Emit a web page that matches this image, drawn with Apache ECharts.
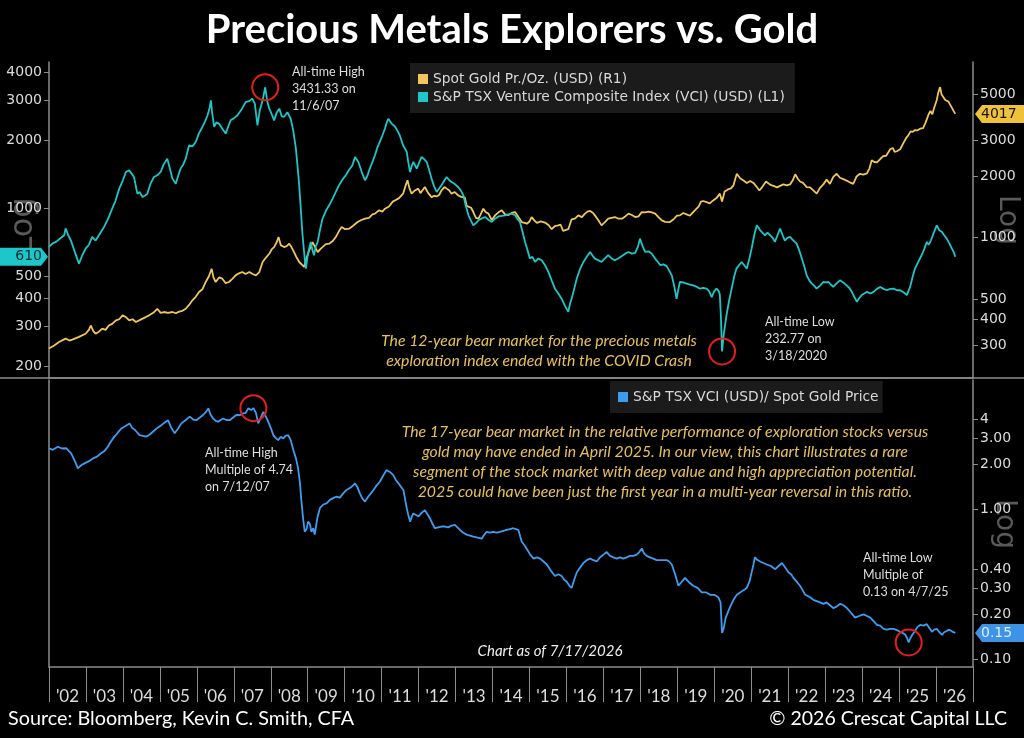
<!DOCTYPE html>
<html>
<head>
<meta charset="utf-8">
<title>Precious Metals Explorers vs. Gold</title>
<script src="https://cdn.jsdelivr.net/npm/echarts@6/dist/echarts.min.js"></script>
<style>
html, body { margin: 0; background: #000; }
#chart { width: 1024px; height: 738px; }
</style>
</head>
<body>
<div id="chart"></div>
<script>
// values, [decimal year, value]
const vciData = [[2002.00,675],[2002.10,700],[2002.20,712],[2002.30,735],[2002.41,760],[2002.45,815],[2002.52,760],[2002.59,722],[2002.70,640],[2002.81,569],[2002.90,620],[2002.99,663],[2003.08,690],[2003.17,747],[2003.26,720],[2003.35,760],[2003.49,827],[2003.60,900],[2003.71,997],[2003.80,1080],[2003.90,1222],[2004.00,1330],[2004.08,1448],[2004.17,1472],[2004.24,1420],[2004.30,1376],[2004.39,1161],[2004.45,1180],[2004.53,1122],[2004.60,1140],[2004.66,1160],[2004.75,1290],[2004.84,1376],[2004.93,1400],[2005.02,1448],[2005.10,1560],[2005.20,1659],[2005.27,1500],[2005.34,1353],[2005.43,1285],[2005.50,1400],[2005.56,1498],[2005.63,1560],[2005.70,1659],[2005.79,1900],[2005.88,1880],[2005.97,1965],[2006.06,2150],[2006.15,2290],[2006.22,2420],[2006.29,2580],[2006.35,2800],[2006.38,3003],[2006.42,2600],[2006.47,2290],[2006.53,2400],[2006.60,2370],[2006.69,2250],[2006.78,2140],[2006.85,2300],[2006.92,2460],[2007.00,2500],[2007.10,2580],[2007.20,2720],[2007.32,2950],[2007.42,2980],[2007.50,3055],[2007.57,2900],[2007.64,2330],[2007.70,2700],[2007.78,3003],[2007.85,3431.33],[2007.90,3000],[2007.96,2760],[2008.03,2600],[2008.09,2450],[2008.16,2650],[2008.23,2760],[2008.30,2550],[2008.36,2540],[2008.45,2660],[2008.54,2490],[2008.61,2200],[2008.68,1837],[2008.73,1500],[2008.77,1264],[2008.82,950],[2008.86,760],[2008.91,620],[2008.95,541],[2009.00,620],[2009.08,710],[2009.13,650],[2009.17,620],[2009.22,680],[2009.27,710],[2009.33,800],[2009.40,900],[2009.50,980],[2009.58,1031],[2009.67,1100],[2009.76,1181],[2009.83,1250],[2009.90,1307],[2009.97,1360],[2010.03,1400],[2010.12,1480],[2010.21,1550],[2010.28,1688],[2010.37,1603],[2010.46,1450],[2010.55,1330],[2010.62,1400],[2010.68,1500],[2010.75,1600],[2010.82,1716],[2010.88,1850],[2010.95,1966],[2011.02,2100],[2011.09,2253],[2011.14,2400],[2011.18,2490],[2011.27,2370],[2011.36,2300],[2011.43,2200],[2011.49,2104],[2011.58,1900],[2011.68,1777],[2011.72,1600],[2011.77,1448],[2011.82,1550],[2011.86,1603],[2011.95,1498],[2012.02,1600],[2012.08,1688],[2012.15,1650],[2012.22,1603],[2012.30,1450],[2012.35,1353],[2012.42,1250],[2012.49,1181],[2012.55,1220],[2012.62,1264],[2012.70,1330],[2012.76,1376],[2012.83,1330],[2012.89,1307],[2012.98,1280],[2013.07,1242],[2013.14,1200],[2013.21,1142],[2013.28,1020],[2013.35,931],[2013.42,880],[2013.48,841],[2013.55,860],[2013.62,885],[2013.70,900],[2013.80,915],[2013.89,890],[2013.98,870],[2014.07,900],[2014.16,920],[2014.25,925],[2014.34,931],[2014.43,940],[2014.52,947],[2014.61,931],[2014.67,900],[2014.74,870],[2014.81,790],[2014.88,710],[2014.95,650],[2015.01,599],[2015.08,610],[2015.15,579],[2015.24,600],[2015.33,589],[2015.42,560],[2015.51,523],[2015.60,480],[2015.69,441],[2015.78,420],[2015.87,398],[2015.96,370],[2016.05,348],[2016.10,380],[2016.14,398],[2016.21,440],[2016.28,489],[2016.37,540],[2016.46,579],[2016.55,610],[2016.64,641],[2016.70,620],[2016.77,599],[2016.86,590],[2016.95,579],[2017.04,600],[2017.13,620],[2017.22,600],[2017.31,589],[2017.40,600],[2017.50,615],[2017.59,630],[2017.68,641],[2017.77,630],[2017.86,635],[2017.94,680],[2017.99,734],[2018.06,680],[2018.13,641],[2018.22,645],[2018.31,630],[2018.40,599],[2018.47,580],[2018.54,560],[2018.62,565],[2018.71,555],[2018.78,530],[2018.85,505],[2018.92,450],[2018.98,398],[2019.03,440],[2019.07,472],[2019.16,470],[2019.25,464],[2019.34,460],[2019.43,456],[2019.52,450],[2019.61,441],[2019.70,445],[2019.79,441],[2019.86,430],[2019.93,405],[2020.00,430],[2020.06,441],[2020.12,430],[2020.15,415],[2020.18,330],[2020.21,232.77],[2020.26,280],[2020.33,336],[2020.40,390],[2020.47,441],[2020.54,500],[2020.60,541],[2020.67,560],[2020.74,579],[2020.81,560],[2020.88,541],[2020.95,600],[2021.01,663],[2021.08,760],[2021.15,841],[2021.20,820],[2021.24,800],[2021.30,780],[2021.37,760],[2021.44,780],[2021.51,760],[2021.58,740],[2021.64,710],[2021.71,760],[2021.78,813],[2021.85,760],[2021.91,720],[2021.98,740],[2022.05,747],[2022.14,720],[2022.23,698],[2022.30,650],[2022.37,599],[2022.44,550],[2022.50,505],[2022.57,480],[2022.64,464],[2022.70,455],[2022.77,441],[2022.86,455],[2022.95,472],[2023.02,470],[2023.09,472],[2023.15,460],[2023.22,449],[2023.31,465],[2023.40,480],[2023.49,470],[2023.58,456],[2023.65,445],[2023.72,427],[2023.79,405],[2023.86,386],[2023.92,400],[2023.99,413],[2024.06,420],[2024.13,427],[2024.22,420],[2024.31,427],[2024.40,440],[2024.49,449],[2024.58,440],[2024.67,434],[2024.76,440],[2024.85,441],[2024.94,434],[2025.03,434],[2025.12,425],[2025.21,413],[2025.25,405],[2025.30,450],[2025.37,500],[2025.43,541],[2025.52,580],[2025.61,620],[2025.68,660],[2025.75,710],[2025.80,690],[2025.86,720],[2025.94,780],[2026.02,841],[2026.09,800],[2026.16,786],[2026.22,760],[2026.29,734],[2026.36,700],[2026.43,663],[2026.48,640],[2026.52,610]];

const goldData = [[2002.00,288],[2002.14,298],[2002.27,310],[2002.45,322],[2002.55,315],[2002.63,318],[2002.81,328],[2002.99,340],[2003.08,355],[2003.13,373],[2003.20,350],[2003.26,340],[2003.35,348],[2003.44,360],[2003.53,355],[2003.62,373],[2003.71,380],[2003.81,395],[2003.90,400],[2003.99,418],[2004.08,410],[2004.17,395],[2004.26,400],[2004.35,388],[2004.44,395],[2004.53,403],[2004.62,410],[2004.71,418],[2004.82,430],[2004.93,450],[2005.02,430],[2005.11,434],[2005.22,430],[2005.34,434],[2005.43,428],[2005.52,436],[2005.61,440],[2005.70,450],[2005.79,470],[2005.88,495],[2005.97,515],[2006.06,543],[2006.15,560],[2006.24,608],[2006.33,650],[2006.40,706],[2006.45,640],[2006.51,608],[2006.60,640],[2006.69,631],[2006.78,600],[2006.87,608],[2006.96,630],[2007.05,655],[2007.14,670],[2007.23,680],[2007.32,665],[2007.42,680],[2007.51,665],[2007.60,655],[2007.69,680],[2007.78,761],[2007.87,800],[2007.96,835],[2008.03,880],[2008.09,900],[2008.16,950],[2008.21,1007],[2008.27,920],[2008.36,900],[2008.43,910],[2008.50,935],[2008.56,900],[2008.63,851],[2008.70,800],[2008.77,761],[2008.84,740],[2008.90,720],[2008.97,800],[2009.04,867],[2009.13,952],[2009.20,900],[2009.27,851],[2009.34,880],[2009.40,900],[2009.49,930],[2009.58,935],[2009.67,960],[2009.76,1007],[2009.85,1080],[2009.92,1127],[2010.01,1100],[2010.12,1106],[2010.22,1140],[2010.35,1192],[2010.45,1220],[2010.55,1238],[2010.66,1250],[2010.75,1300],[2010.82,1310],[2010.93,1360],[2011.02,1340],[2011.09,1385],[2011.20,1420],[2011.30,1500],[2011.36,1520],[2011.47,1560],[2011.58,1640],[2011.65,1800],[2011.70,1905],[2011.75,1750],[2011.81,1640],[2011.90,1700],[2011.99,1735],[2012.05,1650],[2012.17,1766],[2012.26,1650],[2012.35,1578],[2012.42,1600],[2012.49,1590],[2012.56,1620],[2012.62,1700],[2012.70,1766],[2012.76,1735],[2012.83,1700],[2012.89,1640],[2012.98,1670],[2013.07,1608],[2013.16,1580],[2013.25,1570],[2013.30,1430],[2013.35,1438],[2013.42,1400],[2013.48,1334],[2013.55,1250],[2013.62,1238],[2013.68,1300],[2013.75,1385],[2013.82,1330],[2013.89,1310],[2013.98,1220],[2014.07,1285],[2014.16,1330],[2014.25,1360],[2014.34,1300],[2014.43,1290],[2014.52,1320],[2014.61,1334],[2014.70,1260],[2014.79,1192],[2014.87,1180],[2014.93,1170],[2015.00,1200],[2015.06,1260],[2015.13,1215],[2015.20,1180],[2015.31,1200],[2015.42,1185],[2015.52,1150],[2015.60,1100],[2015.69,1140],[2015.78,1148],[2015.84,1160],[2015.91,1080],[2015.96,1066],[2016.05,1100],[2016.14,1230],[2016.23,1240],[2016.32,1285],[2016.42,1260],[2016.50,1310],[2016.57,1340],[2016.64,1350],[2016.72,1320],[2016.77,1285],[2016.86,1220],[2016.95,1148],[2017.04,1190],[2017.13,1238],[2017.22,1250],[2017.31,1261],[2017.40,1240],[2017.50,1238],[2017.59,1270],[2017.68,1310],[2017.77,1290],[2017.86,1261],[2017.95,1270],[2018.04,1334],[2018.13,1330],[2018.22,1340],[2018.31,1330],[2018.40,1310],[2018.49,1260],[2018.58,1215],[2018.67,1195],[2018.80,1192],[2018.90,1230],[2018.99,1280],[2019.07,1285],[2019.16,1320],[2019.25,1300],[2019.34,1280],[2019.43,1334],[2019.52,1385],[2019.58,1420],[2019.64,1500],[2019.70,1510],[2019.79,1490],[2019.88,1470],[2019.97,1520],[2020.06,1560],[2020.15,1640],[2020.21,1500],[2020.28,1680],[2020.37,1720],[2020.45,1740],[2020.52,1800],[2020.58,1970],[2020.61,2050],[2020.70,1950],[2020.79,1900],[2020.88,1850],[2020.97,1890],[2021.06,1850],[2021.15,1766],[2021.22,1700],[2021.30,1770],[2021.40,1880],[2021.45,1850],[2021.52,1810],[2021.60,1790],[2021.70,1760],[2021.78,1790],[2021.87,1820],[2021.96,1800],[2022.05,1820],[2022.12,1900],[2022.19,2040],[2022.26,1940],[2022.32,1880],[2022.40,1850],[2022.50,1766],[2022.59,1760],[2022.68,1700],[2022.77,1640],[2022.86,1750],[2022.95,1820],[2023.04,1920],[2023.13,1830],[2023.22,1980],[2023.31,2050],[2023.40,1960],[2023.49,1930],[2023.58,1900],[2023.67,1860],[2023.76,1830],[2023.85,1990],[2023.94,2050],[2024.03,2030],[2024.13,2060],[2024.20,2180],[2024.26,2385],[2024.33,2340],[2024.40,2330],[2024.49,2420],[2024.57,2500],[2024.65,2510],[2024.76,2700],[2024.83,2740],[2024.88,2620],[2024.94,2640],[2025.03,2700],[2025.12,2900],[2025.20,3080],[2025.25,3155],[2025.31,3300],[2025.37,3280],[2025.43,3350],[2025.50,3340],[2025.57,3400],[2025.65,3420],[2025.72,3650],[2025.80,4000],[2025.85,4150],[2025.90,4000],[2025.95,4300],[2026.02,4700],[2026.06,5100],[2026.11,5430],[2026.15,5000],[2026.20,5040],[2026.25,4700],[2026.29,4760],[2026.34,4600],[2026.38,4590],[2026.43,4300],[2026.47,4170],[2026.52,4017]];

const ratioData = [[2002.00,2.56],[2002.10,2.50],[2002.24,2.62],[2002.35,2.55],[2002.47,2.56],[2002.60,2.37],[2002.70,2.10],[2002.78,1.88],[2002.88,1.98],[2002.96,2.03],[2003.08,2.10],[2003.19,2.19],[2003.30,2.25],[2003.41,2.37],[2003.50,2.45],[2003.59,2.62],[2003.68,2.85],[2003.77,3.06],[2003.86,3.25],[2003.96,3.47],[2004.07,3.60],[2004.18,3.75],[2004.25,3.50],[2004.32,3.40],[2004.45,3.13],[2004.54,3.10],[2004.63,3.06],[2004.72,3.15],[2004.81,3.30],[2004.93,3.50],[2005.04,3.65],[2005.13,3.80],[2005.22,3.94],[2005.31,3.50],[2005.40,3.22],[2005.49,3.45],[2005.58,3.75],[2005.70,3.95],[2005.81,4.16],[2005.90,3.98],[2005.99,3.94],[2006.08,4.10],[2006.17,4.27],[2006.24,4.45],[2006.31,4.72],[2006.37,4.30],[2006.44,4.04],[2006.51,3.90],[2006.58,3.85],[2006.64,3.95],[2006.71,4.04],[2006.80,3.95],[2006.89,3.94],[2006.98,4.10],[2007.07,4.27],[2007.16,4.25],[2007.25,4.37],[2007.32,4.40],[2007.39,4.72],[2007.47,4.60],[2007.53,4.74],[2007.60,4.40],[2007.66,3.75],[2007.73,4.10],[2007.80,4.47],[2007.86,4.20],[2007.93,3.85],[2008.00,3.50],[2008.07,3.13],[2008.13,3.00],[2008.20,2.90],[2008.27,3.05],[2008.34,2.98],[2008.40,3.10],[2008.47,3.13],[2008.54,2.90],[2008.61,2.49],[2008.68,2.20],[2008.74,1.88],[2008.79,1.50],[2008.83,1.13],[2008.88,0.85],[2008.92,0.71],[2008.97,0.74],[2009.01,0.83],[2009.06,0.80],[2009.10,0.71],[2009.15,0.75],[2009.19,0.68],[2009.26,0.88],[2009.33,1.02],[2009.42,1.08],[2009.51,1.10],[2009.60,1.16],[2009.69,1.19],[2009.78,1.22],[2009.87,1.20],[2009.96,1.28],[2010.05,1.35],[2010.16,1.40],[2010.28,1.49],[2010.35,1.40],[2010.41,1.28],[2010.48,1.18],[2010.55,1.13],[2010.64,1.22],[2010.73,1.30],[2010.84,1.42],[2010.95,1.53],[2011.04,1.68],[2011.13,1.83],[2011.22,1.78],[2011.31,1.70],[2011.38,1.58],[2011.45,1.50],[2011.52,1.42],[2011.59,1.35],[2011.64,1.15],[2011.68,1.02],[2011.73,0.90],[2011.77,0.83],[2011.82,0.90],[2011.86,0.94],[2011.93,0.92],[2012.00,0.90],[2012.08,0.95],[2012.17,0.99],[2012.24,0.93],[2012.31,0.87],[2012.38,0.80],[2012.44,0.75],[2012.53,0.76],[2012.62,0.77],[2012.71,0.77],[2012.80,0.76],[2012.89,0.78],[2012.98,0.79],[2013.05,0.76],[2013.12,0.73],[2013.21,0.70],[2013.30,0.68],[2013.39,0.67],[2013.48,0.66],[2013.60,0.65],[2013.71,0.64],[2013.78,0.68],[2013.84,0.71],[2013.93,0.70],[2014.02,0.71],[2014.11,0.70],[2014.20,0.71],[2014.29,0.72],[2014.38,0.73],[2014.47,0.74],[2014.56,0.75],[2014.63,0.74],[2014.70,0.73],[2014.75,0.66],[2014.79,0.61],[2014.86,0.58],[2014.92,0.55],[2015.02,0.50],[2015.11,0.47],[2015.20,0.48],[2015.29,0.47],[2015.38,0.45],[2015.47,0.43],[2015.58,0.39],[2015.69,0.36],[2015.78,0.37],[2015.87,0.36],[2015.94,0.34],[2016.01,0.33],[2016.08,0.31],[2016.14,0.30],[2016.21,0.34],[2016.28,0.38],[2016.37,0.41],[2016.46,0.44],[2016.55,0.46],[2016.64,0.47],[2016.73,0.46],[2016.82,0.45],[2016.91,0.48],[2017.00,0.50],[2017.09,0.52],[2017.18,0.49],[2017.27,0.48],[2017.36,0.47],[2017.45,0.48],[2017.54,0.47],[2017.63,0.48],[2017.72,0.49],[2017.81,0.49],[2017.90,0.50],[2017.97,0.52],[2018.04,0.55],[2018.10,0.51],[2018.17,0.49],[2018.26,0.48],[2018.35,0.47],[2018.44,0.46],[2018.53,0.46],[2018.62,0.46],[2018.71,0.46],[2018.78,0.45],[2018.85,0.43],[2018.94,0.37],[2019.03,0.31],[2019.12,0.33],[2019.21,0.35],[2019.30,0.33],[2019.43,0.31],[2019.55,0.30],[2019.66,0.28],[2019.78,0.28],[2019.89,0.27],[2020.00,0.27],[2020.11,0.26],[2020.17,0.24],[2020.21,0.15],[2020.25,0.16],[2020.31,0.19],[2020.38,0.21],[2020.45,0.23],[2020.52,0.25],[2020.61,0.27],[2020.70,0.28],[2020.79,0.29],[2020.88,0.30],[2020.95,0.33],[2021.01,0.38],[2021.06,0.43],[2021.10,0.48],[2021.17,0.46],[2021.24,0.45],[2021.33,0.44],[2021.42,0.43],[2021.53,0.42],[2021.65,0.40],[2021.74,0.42],[2021.83,0.44],[2021.92,0.41],[2022.01,0.38],[2022.08,0.37],[2022.14,0.35],[2022.23,0.33],[2022.32,0.31],[2022.39,0.29],[2022.46,0.27],[2022.53,0.265],[2022.59,0.26],[2022.68,0.25],[2022.77,0.245],[2022.86,0.24],[2022.95,0.235],[2023.04,0.24],[2023.13,0.23],[2023.22,0.22],[2023.31,0.225],[2023.41,0.235],[2023.50,0.23],[2023.59,0.22],[2023.70,0.205],[2023.81,0.19],[2023.92,0.195],[2024.04,0.20],[2024.13,0.195],[2024.22,0.19],[2024.31,0.18],[2024.40,0.17],[2024.49,0.168],[2024.58,0.16],[2024.67,0.158],[2024.76,0.16],[2024.85,0.16],[2024.94,0.157],[2025.03,0.153],[2025.10,0.15],[2025.17,0.146],[2025.22,0.138],[2025.26,0.13],[2025.30,0.138],[2025.35,0.145],[2025.43,0.155],[2025.50,0.165],[2025.57,0.17],[2025.66,0.168],[2025.75,0.172],[2025.82,0.162],[2025.89,0.153],[2025.95,0.158],[2026.02,0.16],[2026.09,0.152],[2026.16,0.146],[2026.22,0.152],[2026.29,0.155],[2026.36,0.158],[2026.43,0.154],[2026.48,0.152],[2026.52,0.15]];

// highs and lows that get a red circle
const vciExtremes = [[2007.85, 3431.33], [2020.21, 232.77]];
const ratioExtremes = [[2007.53, 4.74], [2025.26, 0.13]];

// axis ticks
const yearTicks = [2002, 2003, 2004, 2005, 2006, 2007, 2008, 2009, 2010, 2011, 2012, 2013, 2014, 2015, 2016, 2017, 2018, 2019, 2020, 2021, 2022, 2023, 2024, 2025, 2026, 2027];
const yearLabels = ["'02", "'03", "'04", "'05", "'06", "'07", "'08", "'09", "'10", "'11", "'12", "'13", "'14", "'15", "'16", "'17", "'18", "'19", "'20", "'21", "'22", "'23", "'24", "'25", "'26"];
const vciTicks = [200, 300, 400, 500, 1000, 2000, 3000, 4000];
const goldTicks = [300, 400, 500, 1000, 2000, 3000, 5000];
const ratioTicks = [0.1, 0.2, 0.3, 0.4, 1, 2, 3, 4];
const ratioTickLabels = ["0.10", "0.20", "0.30", "0.40", "1.00", "2.00", "3.00", "4"];

const GOLD = "#f1c65a";
const CYAN = "#1dc6c8";
const BLUE = "#3e9df0";
const AXIS = "#8c8c8c";
const TICK_TEXT = "#dcdcdc";
const NUM_FONT = "DejaVu Sans";

const chart = echarts.init(document.querySelector("#chart"));

function logAxis(gridIndex, position, min, max, ticks, labels) {
  return {
    type: "log",
    logBase: 10,
    gridIndex: gridIndex,
    position: position,
    min: min,
    max: max,
    axisLine: { show: true, lineStyle: { color: AXIS, width: 1.5 } },
    axisTick: { show: !!ticks, customValues: ticks || [], length: 5, lineStyle: { color: AXIS } },
    axisLabel: {
      show: !!ticks,
      customValues: ticks || [],
      color: TICK_TEXT,
      fontSize: 14,
      fontFamily: NUM_FONT,
      margin: 7,
      formatter: v => labels ? labels[ticks.indexOf(v)] : String(v)
    },
    splitLine: { show: false }
  };
}

const yearMids = yearLabels.map((s, i) => yearTicks[i] + 0.5);

function circleMark(points) {
  return {
    silent: true,
    symbol: "circle",
    symbolSize: 26,
    itemStyle: { color: "rgba(0,0,0,0)", borderColor: "#e3201b", borderWidth: 2 },
    label: { show: false },
    data: points.map(p => ({ coord: p }))
  };
}

const staticGraphics = [
  { type: "line", shape: { x1: 0, y1: 378, x2: 1024, y2: 378 }, style: { stroke: AXIS, lineWidth: 1.5 }, z: 1 },
  { type: "text", x: 24, y: 226, rotation: Math.PI / 2,
    style: { text: "Log", fill: "#5a5a5a", font: "32px 'DejaVu Sans'", align: "center", verticalAlign: "middle" } },
  { type: "text", x: 1007, y: 220, rotation: -Math.PI / 2,
    style: { text: "Log", fill: "#5a5a5a", font: "28px 'DejaVu Sans'", align: "center", verticalAlign: "middle" } },
  { type: "text", x: 1004, y: 524, rotation: -Math.PI / 2,
    style: { text: "Log", fill: "#5a5a5a", font: "28px 'DejaVu Sans'", align: "center", verticalAlign: "middle" } },
  { type: "text", x: 292, y: 89,
    style: { text: "All-time High\n3431.33 on\n11/6/07", fill: "#dedede", font: "12.5px Lato", lineHeight: 17, verticalAlign: "middle" } },
  { type: "text", x: 765, y: 339,
    style: { text: "All-time Low\n232.77 on\n3/18/2020", fill: "#dedede", font: "12.5px Lato", lineHeight: 17, verticalAlign: "middle" } },
  { type: "text", x: 205, y: 470,
    style: { text: "All-time High\nMultiple of 4.74\non 7/12/07", fill: "#dedede", font: "12.5px Lato", lineHeight: 17, verticalAlign: "middle" } },
  { type: "text", x: 863, y: 575,
    style: { text: "All-time Low\nMultiple of\n0.13 on 4/7/25", fill: "#dedede", font: "12.5px Lato", lineHeight: 17, verticalAlign: "middle" } },
  { type: "text", x: 539, y: 351,
    style: { text: "The 12-year bear market for the precious metals\nexploration index ended with the COVID Crash",
      fill: "#e6c15a", font: "italic 15.8px Lato", lineHeight: 20, align: "center", verticalAlign: "middle" } },
  { type: "text", x: 665, y: 462,
    style: { text: "The 17-year bear market in the relative performance of exploration stocks versus\ngold may have ended in April 2025. In our view, this chart illustrates a rare\nsegment of the stock market with deep value and high appreciation potential.\n2025 could have been just the first year in a multi-year reversal in this ratio.",
      fill: "#e6c15a", font: "italic 15.8px Lato", lineHeight: 20, align: "center", verticalAlign: "middle" } },
  { type: "text", x: 550, y: 651,
    style: { text: "Chart as of 7/17/2026", fill: "#eeeeee", font: "italic 15px Lato", align: "center", verticalAlign: "middle" } },
  { type: "text", x: 8, y: 719,
    style: { text: "Source: Bloomberg, Kevin C. Smith, CFA", fill: "#ffffff", font: "19.8px Lato", verticalAlign: "middle" } },
  { type: "text", x: 1007, y: 719,
    style: { text: "\u00a9 2026 Crescat Capital LLC", fill: "#ffffff", font: "19.5px Lato", align: "right", verticalAlign: "middle" } }
];

chart.setOption({
  backgroundColor: "#000",
  animation: false,
  title: {
    text: "Precious Metals Explorers vs. Gold",
    left: "center",
    top: 5,
    textStyle: { color: "#fff", fontSize: 40, fontWeight: "bold", fontFamily: "Lato" }
  },
  legend: [
    {
      data: ["Spot Gold Pr./Oz. (USD) (R1)", "S&P TSX Venture Composite Index (VCI) (USD) (L1)"],
      orient: "vertical",
      left: 410,
      top: 63,
      backgroundColor: "#1b1b1b",
      padding: [9, 10, 9, 8],
      itemWidth: 10,
      itemHeight: 10,
      itemGap: 4,
      icon: "rect",
      selectedMode: false,
      textStyle: { color: "#d8d8d8", fontSize: 13.8, fontFamily: NUM_FONT }
    },
    {
      data: ["S&P TSX VCI (USD)/ Spot Gold Price"],
      left: 610,
      top: 381,
      backgroundColor: "#1b1b1b",
      padding: [9, 4, 9, 8],
      itemWidth: 10,
      itemHeight: 10,
      icon: "rect",
      selectedMode: false,
      textStyle: { color: "#d8d8d8", fontSize: 13.8, fontFamily: NUM_FONT }
    }
  ],
  grid: [
    { left: 49, right: 51, top: 62, height: 316 },
    { left: 49, right: 51, top: 380, height: 287 }
  ],
  xAxis: [
    {
      type: "value", gridIndex: 0, min: 2002, max: 2027,
      axisLine: { show: true, lineStyle: { color: AXIS, width: 1.5 } },
      axisTick: { show: false }, axisLabel: { show: false }, splitLine: { show: false }
    },
    {
      type: "value", gridIndex: 1, min: 2002, max: 2027,
      axisLine: { show: true, lineStyle: { color: AXIS, width: 1.5 } },
      axisTick: { show: true, customValues: yearTicks, length: 35, lineStyle: { color: AXIS } },
      axisLabel: {
        customValues: yearMids,
        color: TICK_TEXT,
        fontSize: 17,
        fontFamily: "Lato",
        margin: 21,
        verticalAlign: "top",
        formatter: v => yearLabels[Math.floor(v) - 2002]
      },
      splitLine: { show: false }
    }
  ],
  yAxis: [
    logAxis(0, "left", 177.5, 4439, vciTicks),
    logAxis(0, "right", 206.8, 7195, goldTicks),
    logAxis(1, "right", 0.0891, 7.30, ratioTicks, ratioTickLabels),
    logAxis(1, "left", 0.0891, 7.30, null)
  ],
  series: [
    {
      name: "Spot Gold Pr./Oz. (USD) (R1)",
      type: "line", xAxisIndex: 0, yAxisIndex: 1,
      data: goldData, showSymbol: false, color: GOLD,
      lineStyle: { width: 1.8, color: GOLD }
    },
    {
      name: "S&P TSX Venture Composite Index (VCI) (USD) (L1)",
      type: "line", xAxisIndex: 0, yAxisIndex: 0,
      data: vciData, showSymbol: false, color: CYAN,
      lineStyle: { width: 1.8, color: CYAN },
      markPoint: circleMark(vciExtremes)
    },
    {
      name: "S&P TSX VCI (USD)/ Spot Gold Price",
      type: "line", xAxisIndex: 1, yAxisIndex: 2,
      data: ratioData, showSymbol: false, color: BLUE,
      lineStyle: { width: 1.8, color: BLUE },
      markPoint: circleMark(ratioExtremes)
    }
  ],
  graphic: staticGraphics
});

// last-value tags sitting on the axes
function tag(side, y, fill, textColor, label) {
  const h = 9;
  const points = side === "left"
    ? [[0, y - h], [41, y - h], [48, y], [41, y + h], [0, y + h]]
    : [[975, y], [982, y - h], [1024, y - h], [1024, y + h], [982, y + h]];
  return [
    { type: "polygon", shape: { points: points }, style: { fill: fill }, z: 50 },
    { type: "text", x: side === "left" ? 42 : 981, y: y, z: 51,
      style: { text: label, fill: textColor, font: "14px 'DejaVu Sans'",
        align: side === "left" ? "right" : "left", verticalAlign: "middle" } }
  ];
}
const lastVci = vciData[vciData.length - 1][1];
const lastGold = goldData[goldData.length - 1][1];
const lastRatio = ratioData[ratioData.length - 1][1];
const tags = [].concat(
  tag("left", chart.convertToPixel({ yAxisIndex: 0 }, lastVci), CYAN, "#0b2c2d", String(lastVci)),
  tag("right", chart.convertToPixel({ yAxisIndex: 1 }, lastGold), "#f0c23c", "#111", String(lastGold)),
  tag("right", chart.convertToPixel({ yAxisIndex: 2 }, lastRatio), "#3f93e6", "#dcecff", lastRatio.toFixed(2))
);
chart.setOption({ graphic: staticGraphics.concat(tags) });
</script>
</body>
</html>
